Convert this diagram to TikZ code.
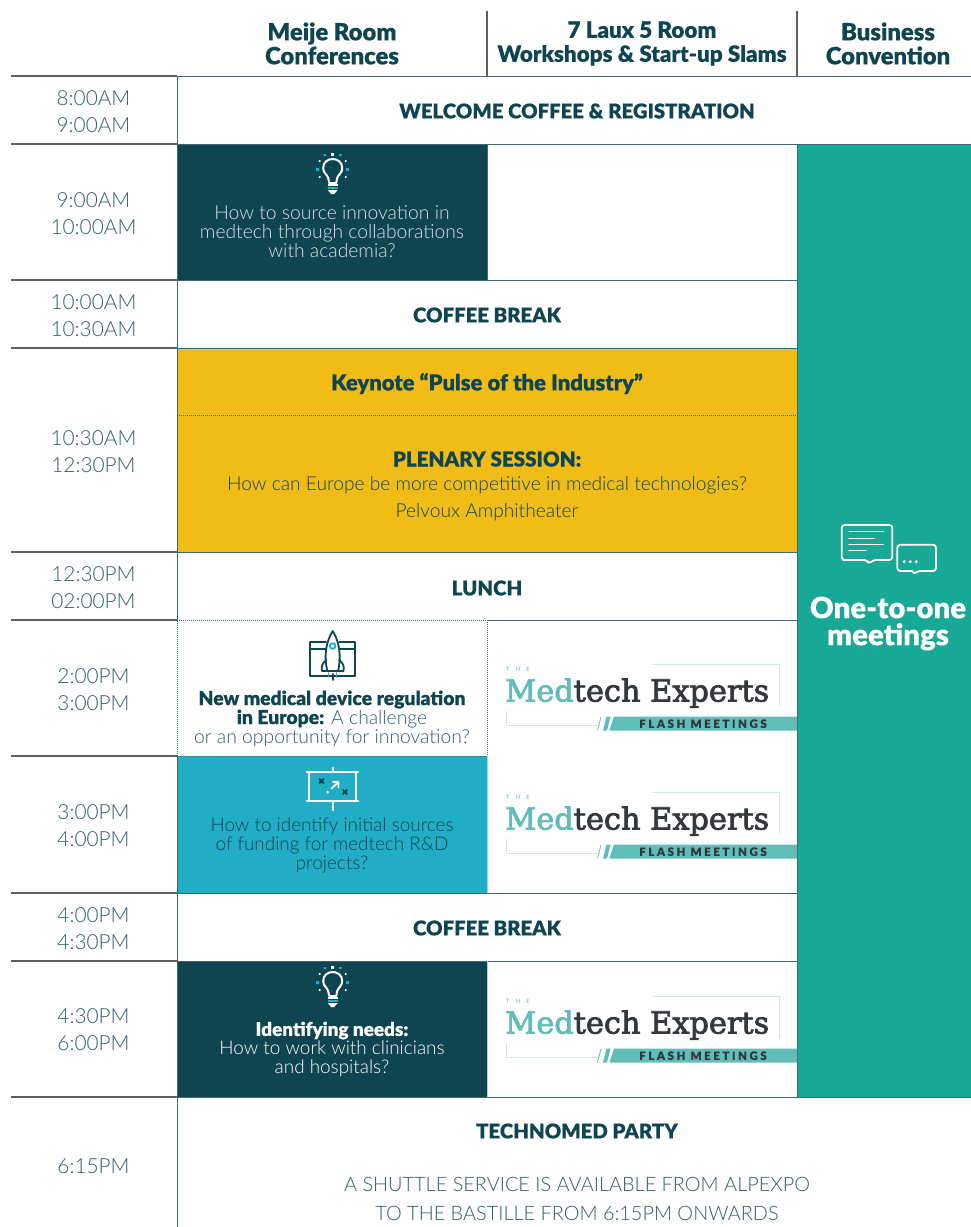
\documentclass[tikz,border=0pt]{standalone}
\usepackage{fontspec}
\setmainfont{Lato}
\newfontfamily\lightf{Lato Light}
\newfontfamily\blackf[FakeBold=0.25]{Lato Black}
\newfontfamily\headf[FakeBold=0.15]{Lato Black}
\newfontfamily\logof[FakeBold=2.5]{DejaVu Serif}
\definecolor{dk}{HTML}{0E4550}
\definecolor{mid}{HTML}{2F5F69}
\definecolor{gold}{HTML}{F1BC16}
\definecolor{sky}{HTML}{22ADC7}
\definecolor{grn}{HTML}{17A995}
\definecolor{lteal}{HTML}{61BDB9}
\definecolor{pale}{HTML}{CFE9E8}
\definecolor{rule}{HTML}{3F6870}
\definecolor{ink}{HTML}{33383C}
\tikzset{
  x=1pt,y=-1pt,
  rulel/.style={draw=rule,line width=1pt},
  headl/.style={draw=ink!80,line width=1.1pt},
  tm/.style={text=mid,align=center,font=\lightf\fontsize{20.8}{27}\selectfont},
  hd/.style={text=dk,align=center,font=\headf\fontsize{23.8}{24}\selectfont},
  ttl/.style={text=dk,align=center,font=\blackf\fontsize{20.3}{24}\selectfont},
  sess/.style={align=center,font=\lightf\fontsize{19.3}{19}\selectfont},
  plen/.style={text=dk,align=center,font=\lightf\fontsize{19.2}{27}\selectfont},
  ico/.style={line width=1.8pt,line cap=round,line join=round},
  pics/bulb/.style={code={
    \draw[ico,white,line width=2pt] (-3.5,13) -- (-4.5,8) .. controls (-6,4) and (-9.5,3) .. (-9.5,-2) .. controls (-9.5,-14) and (9.5,-14) .. (9.5,-2) .. controls (9.5,3) and (6,4) .. (4.5,8) -- (3.5,13) -- cycle;
    \fill[sky] (-5,16.5) rectangle (5,19);
    \fill[white] (-5,14) rectangle (5,16);
    \fill[white] (-5,20) -- (5,20) -- (1.5,24) -- (-1.5,24) -- cycle;
    \fill[white] (-1.5,-17) rectangle (1.5,-14);
    \fill[sky] (-9,-16) rectangle (-6.5,-14) (6.5,-16) rectangle (9,-14);
    \fill[sky] (-16.5,-2) rectangle (-13.5,1) (13.5,-2) rectangle (16.5,1);
    \fill[white] (-13,-9) circle (1.2) (13,-9) circle (1.2) (-13,7) circle (1.2) (13,7) circle (1.2);
  }},
  pics/logo/.style={code={
    \node[text=lteal,font=\fontsize{6}{6}\selectfont,anchor=west,inner sep=0pt] (thetxt) at (506,669) {T\hspace{6pt}H\hspace{6pt}E};
    \node[anchor=base west,inner sep=0pt] (brand) at (505,701.5) {\resizebox{264pt}{!}{\logof\textcolor{lteal}{Med}\textcolor{ink}{tech Experts}}};
    \draw[pale,line width=.9pt] (651.7,664.3) -- (779.3,664.3) -- (779.3,706);
    \draw[pale,line width=.9pt] (506,710.7) -- (506,725.3) -- (596.7,725.3);
    \draw[lteal,line width=.8pt] (597.5,730.5) -- (601,716.7);
    \fill[lteal] (603,730.7) -- (606.5,716.7) -- (610.5,716.7) -- (607,730.7) -- cycle;
    \fill[lteal] (609.3,730.7) -- (614,716.7) -- (797,716.7) -- (797,730.7) -- cycle;
    \node[text=ink,font=\blackf\fontsize{11.5}{12}\selectfont,inner sep=0pt] (flash) at (703,723.7) {\addfontfeature{LetterSpace=22}FLASH MEETINGS};
  }}
}
\begin{document}
\begin{tikzpicture}
\useasboundingbox (0,0) rectangle (971,1227);
\fill[white] (0,0) rectangle (971,1227);
% fills
\fill[dk] (177,144) rectangle (487,280);
\fill[gold] (177,348) rectangle (797,552);
\fill[sky] (177,756) rectangle (487,893);
\fill[dk] (177,961) rectangle (487,1097);
\fill[grn] (797,144) rectangle (971,1097);
% rules
\draw[headl] (487,11) -- (487,76);
\draw[headl] (797,11) -- (797,76);
\foreach \yy in {76,144,280,348,552,620,756,893,961,1097}{\draw[headl] (11,\yy) -- (177,\yy);}
\draw[rulel] (177,76) -- (971,76);
\draw[rulel] (177,144) -- (971,144);
\draw[rulel] (177,1097) -- (971,1097);
\foreach \yy in {280,348,552,893,961}{\draw[rulel] (177,\yy) -- (797,\yy);}
\draw[rulel] (487,620) -- (797,620);
\draw[rulel] (177,76) -- (177,620);
\draw[rulel] (177,756) -- (177,1227);
\draw[rulel] (487,144) -- (487,280);
\draw[pale!60!lteal,line width=1pt] (487,756) -- (487,893);
\draw[pale!60!lteal,line width=1pt] (487,961) -- (487,1097);
\draw[rulel] (797,144) -- (797,1097);
\draw[rulel,densely dotted] (177,415) -- (797,415);
\draw[rulel,densely dotted] (177,620) -- (487,620) -- (487,756) -- (177,756) -- cycle;
% headers
\node[hd] (h1) at (332,43.5) {Meije Room\\Conferences};
\node[hd,font=\headf\fontsize{22.4}{24}\selectfont] (h2) at (642,43.5) {7 Laux 5 Room\\Workshops \& Start-up Slams};
\node[hd] (h3) at (888,43.5) {Business\\Convention};
% times
\node[tm] (t1) at (93.5,112) {8:00AM\\9:00AM};
\node[tm] (t2) at (93.5,214) {9:00AM\\10:00AM};
\node[tm] (t3) at (93.5,316) {10:00AM\\10:30AM};
\node[tm] (t4) at (93.5,452) {10:30AM\\12:30PM};
\node[tm] (t5) at (93.5,588) {12:30PM\\02:00PM};
\node[tm] (t6) at (93.5,690) {2:00PM\\3:00PM};
\node[tm] (t7) at (93.5,826) {3:00PM\\4:00PM};
\node[tm] (t8) at (93.5,928.5) {4:00PM\\4:30PM};
\node[tm] (t9) at (93.5,1030) {4:30PM\\6:00PM};
\node[tm] (t10) at (93.5,1166) {6:15PM};
% titles
\node[ttl] (welcome) at (577,111) {WELCOME COFFEE \& REGISTRATION};
\node[ttl] (cb1) at (487,315) {COFFEE BREAK};
\node[ttl,font=\blackf\fontsize{22}{24}\selectfont] (key) at (487,383.5) {Keynote “Pulse of the Industry”};
\node[ttl,font=\blackf\fontsize{20.6}{24}\selectfont] (plh) at (487,459) {PLENARY SESSION:};
\node[plen] (pl1) at (487,498.5) {How can Europe be more competitive in medical technologies?\\Pelvoux Amphitheater};
\node[ttl] (lunch) at (487,588) {LUNCH};
\node[ttl] (cb2) at (487,928) {COFFEE BREAK};
\node[ttl] (party) at (577,1131) {TECHNOMED PARTY};
\node[plen,text=mid,font=\lightf\fontsize{19.9}{29}\selectfont] (shuttle) at (577,1198.5) {A SHUTTLE SERVICE IS AVAILABLE FROM ALPEXPO\\TO THE BASTILLE FROM 6:15PM ONWARDS};
% sessions
\node[sess,text=white!85!dk] (s1) at (332,232) {How to source innovation in\\medtech through collaborations\\with academia?};
\node[sess,text=mid] (s2) at (332,718.5) {{\blackf\color{dk}New medical device regulation}\\{\blackf\color{dk}in Europe:} A challenge\\or an opportunity for innovation?};
\node[sess,text=dk,font=\lightf\fontsize{18.9}{19}\selectfont] (s3) at (332,845) {How to identify initial sources\\of funding for medtech R\&D\\projects?};
\node[sess,text=white,font=\lightf\fontsize{18.9}{19}\selectfont] (s4) at (332,1049.5) {{\blackf Identifying needs:}\\How to work with clinicians\\and hospitals?};
% icons
\pic at (332.7,170) {bulb};
\pic at (332.7,983) {bulb};
% rocket
\draw[ico,dk] (326,642) -- (310,642) -- (310,676) -- (355,676) -- (355,642) -- (339,642);
\draw[ico,dk] (310,649) -- (326,649) (339,649) -- (355,649);
\draw[ico,dk,fill=white] (327.5,671) .. controls (323,655) and (327,640) .. (332.7,631) .. controls (338.5,640) and (342,655) .. (338,671) -- cycle;
\draw[ico,dk] (326.5,660) .. controls (322,663) and (321,667) .. (322,671) -- (327.5,671);
\draw[ico,dk] (339,660) .. controls (343.5,663) and (344.5,667) .. (343.5,671) -- (338,671);
\draw[ico,sky,line width=1.8pt,fill=white] (332.7,646) circle (2.8);
\draw[ico,sky] (328.5,673) -- (328.5,677) (336.5,673) -- (336.5,677);
\draw[ico,dk] (332.7,674) -- (332.7,680);
% chart
\draw[ico,white,line width=2.2pt] (307,772) -- (358,772) (307,801) -- (358,801);
\draw[ico,white,line width=2.2pt] (309,772) -- (309,801) (356,772) -- (356,801);
\draw[ico,white,line width=2.2pt] (332.7,768) -- (332.7,772) (332.7,801) -- (332.7,810);
\draw[ico,dk,line width=2pt] (319.5,779) -- (323.5,783) (323.5,779) -- (319.5,783);
\draw[ico,dk,line width=2pt] (343,790) -- (347,794) (347,790) -- (343,794);
\fill[white] (327.5,792) circle (1.5);
\draw[ico,white] (331.5,788.5) -- (338,782.5) (333,782) -- (338.5,782) -- (338.5,787.5);
% logos
\begin{scope}\pic {logo};\end{scope}
\begin{scope}[yshift=-128pt]\pic {logo};\end{scope}
\begin{scope}[yshift=-332pt]\pic {logo};\end{scope}
% chat
\draw[ico,white,rounded corners=3pt] (865,560) -- (846,560) -- (841.7,560) -- (841.7,525) -- (892.3,525) -- (892.3,560) -- (873,560) -- (869,564) -- (867,560) -- (865,560);
\draw[ico,white,line width=1.4pt] (849,531.7) -- (883.3,531.7) (849,538.3) -- (874,538.3) (849,544.3) -- (883.3,544.3) (849,550.7) -- (866,550.7);
\draw[ico,white,rounded corners=3pt] (912.7,571) -- (897.3,571) -- (897.3,544.7) -- (936,544.7) -- (936,571) -- (917.5,571) -- (913.5,574.5) -- (912.7,571);
\fill[white] (904.3,561.7) circle (1.7) (910.3,561.7) circle (1.7) (916.3,561.7) circle (1.7);
\node[text=white,align=center,font=\headf\fontsize{29.4}{27}\selectfont] (one) at (888,623.5) {One-to-one\\meetings};
\end{tikzpicture}
\end{document}
